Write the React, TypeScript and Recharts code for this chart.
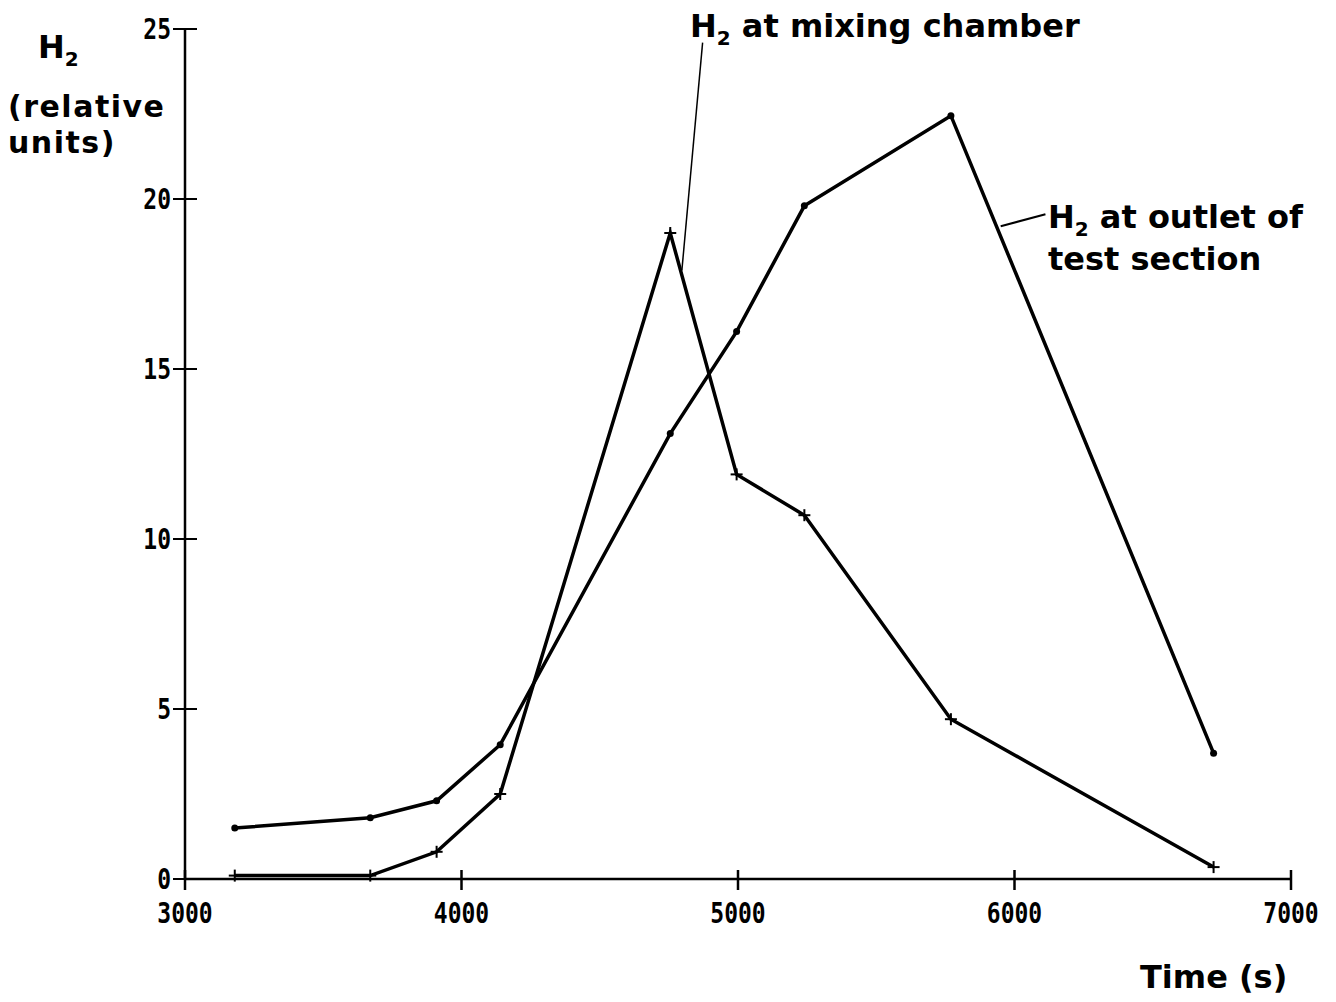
import { LineChart, Line, XAxis, YAxis, ReferenceLine } from "recharts";

const times = [3180, 3670, 3910, 4140, 4755, 4995, 5240, 5770, 6720];
const mixingChamber = [0.1, 0.1, 0.8, 2.5, 19.0, 11.9, 10.7, 4.7, 0.35];
const testOutlet = [1.5, 1.8, 2.3, 3.95, 13.1, 16.1, 19.8, 22.45, 3.7];
const xTicks = [3000, 4000, 5000, 6000, 7000];
const yTicks = [0, 5, 10, 15, 20, 25];

const data = times.map((t, i) => ({ t, mixing: mixingChamber[i], outlet: testOutlet[i] }));

const tickFont = "'DejaVu Sans Mono', monospace";
const labelFont = "'DejaVu Sans', sans-serif";

function XTick({ x, y, payload }: any) {
  const ay = y - 10;
  return (
    <g>
      <line x1={x} y1={ay - 9} x2={x} y2={ay + 11} stroke="#000" strokeWidth={2.5} />
      <text
        transform={`translate(${x},${ay + 44}) scale(1,1.25)`}
        textAnchor="middle"
        fontFamily={tickFont}
        fontWeight="bold"
        fontSize={23}
        fill="#000"
      >
        {payload.value}
      </text>
    </g>
  );
}

function YTick({ x, y, payload }: any) {
  const ax = x + 10;
  return (
    <g>
      <line x1={ax - 12} y1={y} x2={ax + 12} y2={y} stroke="#000" strokeWidth={2} />
      <text
        transform={`translate(${ax - 14},${y + 10}) scale(1,1.25)`}
        textAnchor="end"
        fontFamily={tickFont}
        fontWeight="bold"
        fontSize={23}
        fill="#000"
      >
        {payload.value}
      </text>
    </g>
  );
}

function PlusDot({ cx, cy }: any) {
  return (
    <g>
      <line x1={cx - 6} y1={cy} x2={cx + 6} y2={cy} stroke="#000" strokeWidth={2} />
      <line x1={cx} y1={cy - 6} x2={cx} y2={cy + 6} stroke="#000" strokeWidth={2} />
    </g>
  );
}

function RoundDot({ cx, cy }: any) {
  return <circle cx={cx} cy={cy} r={3.5} fill="#000" />;
}

export default function App() {
  return (
    <div style={{ position: "absolute", left: 0, top: 0, width: 1336, height: 1002, background: "#fff" }}>
      <LineChart
        width={1336}
        height={1002}
        data={data}
        margin={{ top: 29, right: 45, left: 125, bottom: 63 }}
      >
        <XAxis
          dataKey="t"
          type="number"
          domain={[3000, 7000]}
          ticks={xTicks}
          tickLine={false}
          tickSize={10}
          tickMargin={0}
          height={60}
          stroke="#000"
          strokeWidth={2.5}
          tick={<XTick />}
        />
        <YAxis
          type="number"
          domain={[0, 25]}
          ticks={yTicks}
          tickLine={false}
          tickSize={10}
          tickMargin={0}
          width={60}
          stroke="#000"
          strokeWidth={2.5}
          tick={<YTick />}
        />
        <ReferenceLine
          segment={[{ x: 4872, y: 24.6 }, { x: 4797, y: 17.9 }]}
          stroke="#000"
          strokeWidth={1.5}
          ifOverflow="visible"
        />
        <ReferenceLine
          segment={[{ x: 5950, y: 19.2 }, { x: 6112, y: 19.55 }]}
          stroke="#000"
          strokeWidth={2}
          ifOverflow="visible"
        />
        <Line
          type="linear"
          dataKey="mixing"
          stroke="#000"
          strokeWidth={3.5}
          dot={<PlusDot />}
          activeDot={false}
          isAnimationActive={false}
        />
        <Line
          type="linear"
          dataKey="outlet"
          stroke="#000"
          strokeWidth={3.5}
          dot={<RoundDot />}
          activeDot={false}
          isAnimationActive={false}
        />
      </LineChart>
      <svg
        width={1336}
        height={1002}
        style={{ position: "absolute", left: 0, top: 0, pointerEvents: "none" }}
        fontFamily={labelFont}
        fontWeight="bold"
        fill="#000"
      >
        <text x={38} y={58} fontSize={32}>
          H<tspan fontSize={20} dy={8}>2</tspan>
        </text>
        <text x={8} y={117} fontSize={30} letterSpacing={1.5}>(relative</text>
        <text x={8} y={153} fontSize={30} letterSpacing={1.5}>units)</text>
        <text x={690} y={37} fontSize={32}>
          H<tspan fontSize={20} dy={8}>2</tspan>
          <tspan dy={-8}> at mixing chamber</tspan>
        </text>
        <text x={1048} y={228} fontSize={32}>
          H<tspan fontSize={20} dy={8}>2</tspan>
          <tspan dy={-8}> at outlet of</tspan>
        </text>
        <text x={1048} y={270} fontSize={32}>test section</text>
        <text x={1140} y={988} fontSize={32}>Time (s)</text>
      </svg>
    </div>
  );
}
